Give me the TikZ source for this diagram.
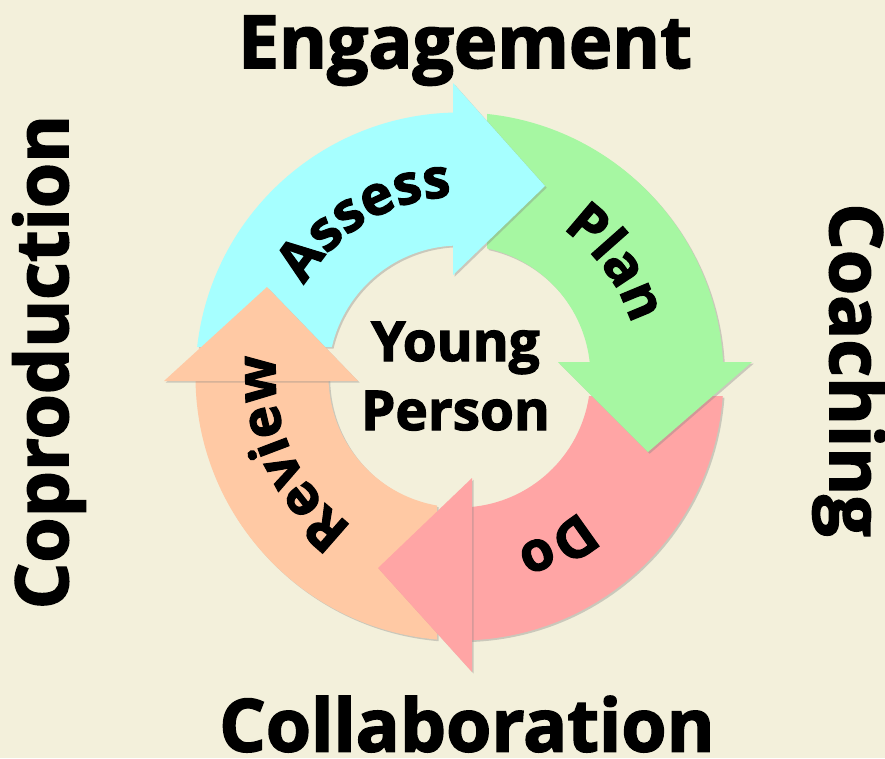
\documentclass[tikz,border=0pt]{standalone}
\usepackage{fontspec}
\setmainfont{Open Sans}[BoldFeatures={FakeBold=2.2}]
\usepackage{xcolor}
\usepackage{tikz}
\usetikzlibrary{shadows, decorations.text}

\definecolor{paper}{HTML}{F3F0DB}
\definecolor{assesscol}{HTML}{A6FFFF}
\definecolor{plancol}{HTML}{A6F7A2}
\definecolor{docol}{HTML}{FFA5A5}
\definecolor{reviewcol}{HTML}{FFC9A4}

\newcommand{\bigword}{\bfseries\fontsize{52}{60}\selectfont}
\newcommand{\midword}{\bfseries\fontsize{39}{50}\selectfont}

\begin{document}
\begin{tikzpicture}[x=0.025cm,y=0.025cm,
    piece/.style={drop shadow={shadow xshift=1.2pt,shadow yshift=-1.2pt,opacity=.35}},
    outer word/.style={font=\bigword,inner sep=0pt,anchor=base},
    centre word/.style={font=\midword,inner sep=0pt,anchor=base}]

  % background
  \fill[paper] (-459.5,-381.5) rectangle (425.5,376.5);
  \useasboundingbox (-459.5,-381.5) rectangle (425.5,376.5);

  % bodies of the four arrows
  \fill[assesscol,piece] (173.58:264) arc[start angle=173.58,end angle=90.4,radius=264]
    -- (91.8:131) arc[start angle=91.8,end angle=166.99,radius=131] -- cycle;
  \fill[plancol,piece] (84.02:264) arc[start angle=84.02,end angle=2.1,radius=264]
    -- (5.3:131) arc[start angle=5.3,end angle=77.88,radius=131] -- cycle;
  \fill[docol,piece] (-4.24:264) arc[start angle=-4.24,end angle=-88.3,radius=264]
    -- (-85.5:131) arc[start angle=-85.5,end angle=-8.56,radius=131] -- cycle;
  \fill[reviewcol,piece] (265.11:264) arc[start angle=265.11,end angle=180,radius=264]
    -- (181:131) arc[start angle=181,end angle=260.11,radius=131] -- cycle;

  % heads
  \fill[assesscol,piece] (-6.5,293.5) -- (85.5,190.5) -- (-6.5,101.5) -- cycle;
  \fill[plancol,piece] (292.5,14.5) -- (188.5,-75.5) -- (98.5,14.5) -- cycle;
  \fill[docol,piece] (12.5,-101.5) -- (-81.5,-191.5) -- (12.5,-295.5) -- cycle;
  \fill[reviewcol,piece] (-295.5,-4.5) -- (-192.5,89.5) -- (-101.5,-4.5) -- cycle;

  % step labels
  \path[decorate,decoration={text along path,text align=center,text={|\midword|Assess}}]
    (171:180) arc[start angle=171,end angle=71,radius=180];
  \path[decorate,decoration={text along path,text align=center,text={|\midword|Plan}}]
    (86:180) arc[start angle=86,end angle=-14,radius=180];
  \path[decorate,decoration={text along path,text align=center,text={|\midword|Do}}]
    (-10:180) arc[start angle=-10,end angle=-110,radius=180];
  \path[decorate,decoration={text along path,text align=center,text={|\midword|Review}}]
    (254:184) arc[start angle=254,end angle=154,radius=184];

  % centre
  \node[centre word] (young) at (-4,15.5) {Young};
  \node[centre word] (person) at (-4,-53.5) {Person};

  % outer words
  \node[outer word] (engage) at (5.5,308.5) {Engagement};
  \node[outer word] (collab) at (7.5,-375) {Collaboration};
  \node[outer word,rotate=90] (coprod) at (-391.5,14.5) {Coproduction};
  \node[outer word,rotate=-90] (coach) at (370.5,6.5) {Coaching};
\end{tikzpicture}
\end{document}
